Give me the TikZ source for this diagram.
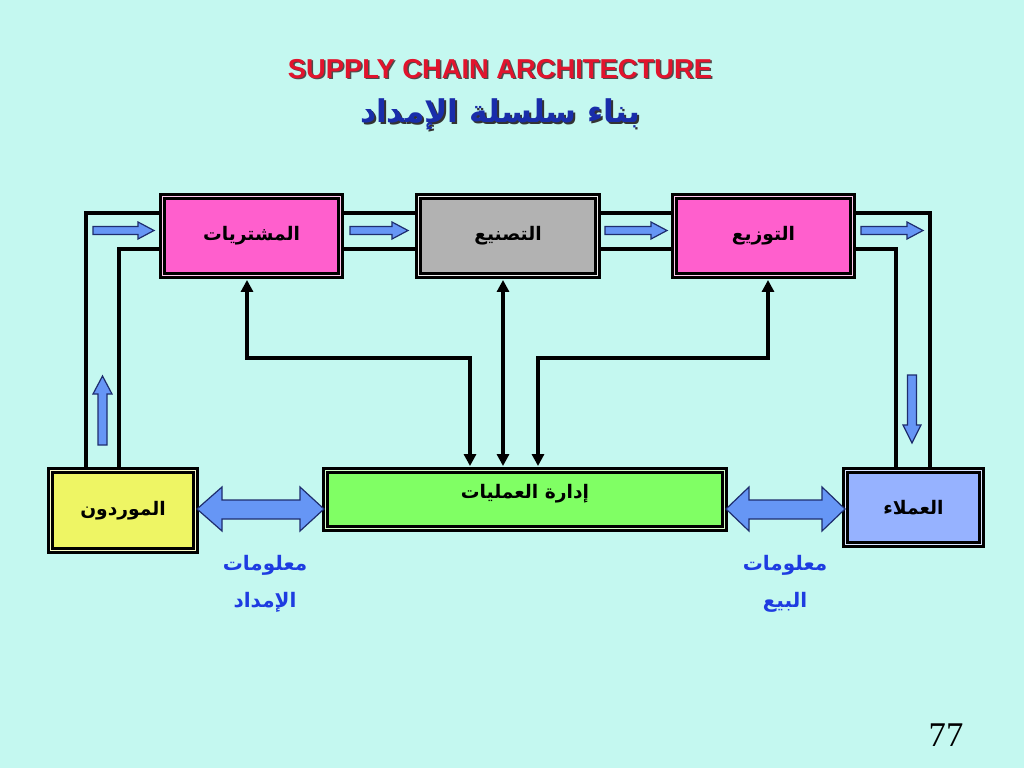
\documentclass[tikz,border=0pt]{standalone}
\usepackage{fontspec}
\setmainfont{Liberation Sans}
\newfontfamily\arabicfont[Script=Arabic]{DejaVu Sans}
\newfontfamily\numfont{Liberation Serif}
\TeXXeTstate=1
\usetikzlibrary{arrows.meta}
\pgfdeclarelayer{bg}
\pgfdeclarelayer{lines}
\pgfsetlayers{bg,lines,main}
\definecolor{bgc}{RGB}{196,248,240}
\definecolor{pinkc}{RGB}{255,95,205}
\definecolor{grayc}{RGB}{178,178,178}
\definecolor{yellowc}{RGB}{238,245,100}
\definecolor{greenc}{RGB}{128,255,100}
\definecolor{bluec}{RGB}{150,178,255}
\definecolor{barrow}{RGB}{102,150,245}
\definecolor{barrowline}{RGB}{30,45,110}
\definecolor{titlered}{RGB}{225,20,45}
\definecolor{titleblue}{RGB}{25,45,170}
\definecolor{labelblue}{RGB}{30,60,225}
\tikzset{
  box/.style={rectangle, draw=black, line width=1.9pt, double distance=1.3pt, inner sep=0pt,
    font=\arabicfont\bfseries\fontsize{14}{17}\selectfont},
  conn/.style={draw=black, line width=2.8pt},
  iarr/.style={draw=black, line width=2.8pt, {Triangle[width=9pt,length=9pt]}-{Triangle[width=9pt,length=9pt]},
    shorten <=2.4pt, shorten >=2.4pt},
  blockarrow/.style={fill=barrow, draw=barrowline, line width=0.9pt, line join=miter},
  infolabel/.style={text=labelblue, align=center, font=\arabicfont\bfseries\fontsize{15}{28}\selectfont}
}
\begin{document}
\begin{tikzpicture}[x=0.75pt,y=-0.75pt]
\useasboundingbox (0,0) rectangle (1024,768);
\begin{pgfonlayer}{bg}
  \fill[bgc] (0,0) rectangle (1024,768);
\end{pgfonlayer}

% titles
\node[text=black!70, font=\bfseries\fontsize{20.5}{23}\selectfont] (t1s) at (501.5,70.5) {SUPPLY CHAIN ARCHITECTURE};
\node[text=titlered, font=\bfseries\fontsize{20.5}{23}\selectfont] (t1) at (500,69) {SUPPLY CHAIN ARCHITECTURE};
\node[text=black!80, font=\arabicfont\bfseries\fontsize{23.5}{28}\selectfont] (t2s) at (502,116) {\beginR بناء سلسلة الإمداد\endR};
\node[text=titleblue, font=\arabicfont\bfseries\fontsize{23.5}{28}\selectfont] (t2) at (500,114) {\beginR بناء سلسلة الإمداد\endR};

% boxes
\node[box, fill=pinkc, double=pinkc!35!white, minimum width=133.5pt, minimum height=59.25pt] (proc) at (251.5,236) {\beginR المشتريات\endR};
\node[box, fill=grayc, double=grayc!25!white, minimum width=134.25pt, minimum height=59.25pt] (manu) at (508,236) {\beginR التصنيع\endR};
\node[box, fill=pinkc, double=pinkc!35!white, minimum width=133.5pt, minimum height=59.25pt] (dist) at (763.5,236) {\beginR التوزيع\endR};
\node[box, fill=yellowc, double=yellowc!35!white, minimum width=108.75pt, minimum height=60pt] (sup) at (123,510.5) {\beginR الموردون\endR};
\node[box, fill=greenc, double=greenc!35!white, minimum width=299.25pt, minimum height=43.5pt,
  label={[font=\arabicfont\bfseries\fontsize{14}{17}\selectfont, yshift=4pt]center:\beginR إدارة العمليات\endR}] (ops) at (525,499.5) {};
\node[box, fill=bluec, double=bluec!35!white, minimum width=102pt, minimum height=55.5pt] (cust) at (913.5,507.5) {\beginR العملاء\endR};

% helper coordinates
\coordinate (L1) at (86,213);
\coordinate (L2) at (119,249);
\coordinate (R1) at (930,213);
\coordinate (R2) at (896,249);
\coordinate (A1) at (470,358);
\coordinate (A2) at (247,358);
\coordinate (M) at (503,358);
\coordinate (B1) at (538,358);
\coordinate (B2) at (768,358);

% physical flow lines
\begin{pgfonlayer}{lines}
  \draw[conn] (sup.north -| L1) |- (proc.west |- L1);
  \draw[conn] (sup.north -| L2) |- (proc.west |- L2);
  \draw[conn] (proc.east |- L1) -- (manu.west |- L1);
  \draw[conn] (proc.east |- L2) -- (manu.west |- L2);
  \draw[conn] (manu.east |- L1) -- (dist.west |- L1);
  \draw[conn] (manu.east |- L2) -- (dist.west |- L2);
  \draw[conn] (dist.east |- L1) -| (cust.north -| R1);
  \draw[conn] (dist.east |- L2) -| (cust.north -| R2);
\end{pgfonlayer}

% information arrows
\draw[iarr] (ops.north -| A1) -- (A1) -- (A2) -- (proc.south -| A2);
\draw[iarr] (ops.north -| M) -- (manu.south -| M);
\draw[iarr] (ops.north -| B1) -- (B1) -- (B2) -- (dist.south -| B2);

% block arrows (material flow)
\draw[blockarrow] (93,226.5) -- (138,226.5) -- (138,222) -- (154,230.5) -- (138,239) -- (138,234.5) -- (93,234.5) -- cycle;
\draw[blockarrow] (350,226.5) -- (392,226.5) -- (392,222) -- (408,230.5) -- (392,239) -- (392,234.5) -- (350,234.5) -- cycle;
\draw[blockarrow] (605,226.5) -- (651,226.5) -- (651,222) -- (667,230.5) -- (651,239) -- (651,234.5) -- (605,234.5) -- cycle;
\draw[blockarrow] (861,226.5) -- (907,226.5) -- (907,222) -- (923,230.5) -- (907,239) -- (907,234.5) -- (861,234.5) -- cycle;
\draw[blockarrow] (98,445) -- (98,394) -- (93,394) -- (102.5,376) -- (112,394) -- (107,394) -- (107,445) -- cycle;
\draw[blockarrow] (907.5,375) -- (907.5,425) -- (903,425) -- (912,443) -- (921,425) -- (916.5,425) -- (916.5,375) -- cycle;

% information double arrows
\draw[blockarrow] (197,509) -- (222,487) -- (222,500) -- (300,500) -- (300,487) -- (324,509) -- (300,531) -- (300,519) -- (222,519) -- (222,531) -- cycle;
\draw[blockarrow] (726,509) -- (749,487) -- (749,500) -- (822,500) -- (822,487) -- (845,509) -- (822,531) -- (822,519) -- (749,519) -- (749,531) -- cycle;

% info labels
\node[infolabel] (supinfo) at (265,584) {\beginR معلومات\endR\\\beginR الإمداد\endR};
\node[infolabel] (saleinfo) at (785,584) {\beginR معلومات\endR\\\beginR البيع\endR};

% page number
\node[font=\numfont\fontsize{26}{30}\selectfont] (pnum) at (946,735) {77};
\end{tikzpicture}
\end{document}
